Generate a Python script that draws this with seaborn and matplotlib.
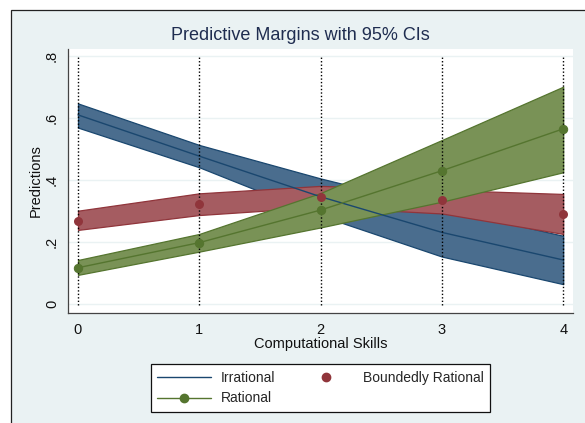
import matplotlib
matplotlib.use("Agg")
import numpy as np
import pandas as pd
import matplotlib.pyplot as plt
import seaborn as sns
from matplotlib.patches import Rectangle
from matplotlib.lines import Line2D

# Predictive margins by computational skill level, with 95% confidence bands
skills = [0, 1, 2, 3, 4]

irr_mean = [0.610, 0.477, 0.346, 0.231, 0.142]
irr_lo = [0.569, 0.441, 0.285, 0.153, 0.064]
irr_hi = [0.647, 0.513, 0.405, 0.309, 0.220]

bnd_mean = [0.269, 0.323, 0.346, 0.334, 0.290]
bnd_lo = [0.239, 0.287, 0.313, 0.292, 0.226]
bnd_hi = [0.301, 0.357, 0.381, 0.368, 0.355]

rat_mean = [0.117, 0.198, 0.303, 0.430, 0.565]
rat_lo = [0.094, 0.169, 0.247, 0.330, 0.425]
rat_hi = [0.142, 0.226, 0.358, 0.529, 0.701]

x_ticks = [0, 1, 2, 3, 4]
y_ticks = [0, 0.2, 0.4, 0.6, 0.8]
y_tick_labels = ["0", ".2", ".4", ".6", ".8"]

df = pd.DataFrame({
    "skill": skills,
    "irr": irr_mean, "irr_lo": irr_lo, "irr_hi": irr_hi,
    "bnd": bnd_mean, "bnd_lo": bnd_lo, "bnd_hi": bnd_hi,
    "rat": rat_mean, "rat_lo": rat_lo, "rat_hi": rat_hi,
})

sns.set_style("white")
plt.rcParams["font.family"] = ["Liberation Sans", "DejaVu Sans"]

NAVY, NAVY_FILL = "#1a476f", "#4a6d8e"
MAROON, MAROON_FILL = "#90353b", "#a55c61"
GREEN, GREEN_FILL = "#55752f", "#799256"
BG = "#eaf2f3"

W, H = 585, 423
fig = plt.figure(figsize=(W / 100, H / 100), dpi=100)
fig.patch.set_facecolor("white")
fig.patches.append(Rectangle((11 / W, -0.02), 1.0, 1 - 10 / H + 0.02,
                             transform=fig.transFigure, facecolor=BG,
                             edgecolor="#222222", lw=0.9, zorder=-10))

ax = fig.add_axes([68 / W, 1 - 313 / H, (573 - 68) / W, (313 - 49) / H])
ax.set_facecolor("white")

# Confidence bands
for lo, hi, fill, edge, z in [("irr_lo", "irr_hi", NAVY_FILL, NAVY, 2),
                              ("bnd_lo", "bnd_hi", MAROON_FILL, MAROON, 3),
                              ("rat_lo", "rat_hi", GREEN_FILL, GREEN, 4)]:
    ax.fill_between(df["skill"], df[lo], df[hi], facecolor=fill,
                    edgecolor=edge, lw=0.9, zorder=z)

# Point estimates
sns.lineplot(data=df, x="skill", y="irr", color=NAVY, lw=1.0, ax=ax, zorder=5)
sns.lineplot(data=df, x="skill", y="rat", color=GREEN, lw=1.0, marker="o",
             markersize=6, markeredgecolor=GREEN, ax=ax, zorder=6)
sns.scatterplot(data=df, x="skill", y="bnd", color=MAROON, s=42,
                edgecolor=MAROON, linewidth=0, ax=ax, zorder=6)

# Reference lines at each skill level
ax.vlines(x_ticks, -0.004, 0.804, colors="black", linestyles=(0, (1, 1.5)),
          lw=1.0, zorder=5.5)

ax.set_xlim((68 - 78) / 121.3, (573 - 78) / 121.3)
ax.set_ylim(-(313 - 304) / 310, 0.8 + (56 - 49) / 310)

ax.set_xticks(x_ticks)
ax.set_yticks(y_ticks)
ax.set_yticklabels(y_tick_labels)
ax.yaxis.grid(True, color=BG, lw=1.0, zorder=0)
ax.xaxis.grid(False)
ax.set_axisbelow(True)

for side in ["top", "right"]:
    ax.spines[side].set_visible(False)
for side in ["left", "bottom"]:
    ax.spines[side].set_color("#444444")
    ax.spines[side].set_linewidth(0.9)

ax.tick_params(axis="both", direction="out", length=5, width=0.9,
               color="#444444", labelsize=10.5, labelcolor="#111111")
ax.tick_params(axis="x", pad=2)
ax.tick_params(axis="y", pad=1.5)
for lab in ax.get_yticklabels():
    lab.set_rotation(90)
    lab.set_va("center")

ax.set_xlabel("Computational Skills", fontsize=10.5, color="#111111", labelpad=0)
ax.set_ylabel("Predictions", fontsize=10.5, color="#111111", labelpad=1.5)

fig.text(300 / W, 1 - 35 / H, "Predictive Margins with 95% CIs",
         ha="center", va="center", fontsize=13, color="#1f2d50")

handles = [
    Line2D([], [], color=NAVY, lw=1.0),
    Line2D([], [], color=GREEN, lw=1.0, marker="o", markersize=6),
    Line2D([], [], color=MAROON, lw=0, marker="o", markersize=6),
]
labels = ["Irrational", "Rational", "Boundedly Rational"]
leg = fig.legend(handles, labels, ncol=2, loc="center",
                 bbox_to_anchor=(320.5 / W, 1 - 388 / H), fontsize=10,
                 frameon=True, fancybox=False, edgecolor="#111111",
                 framealpha=1.0, handlelength=3.9, handletextpad=0.7,
                 columnspacing=1.7, labelspacing=0.5, borderpad=0.45,
                 borderaxespad=0)
leg.get_frame().set_linewidth(0.9)
leg.get_frame().set_facecolor("white")

fig.savefig("out.png", dpi=100)
